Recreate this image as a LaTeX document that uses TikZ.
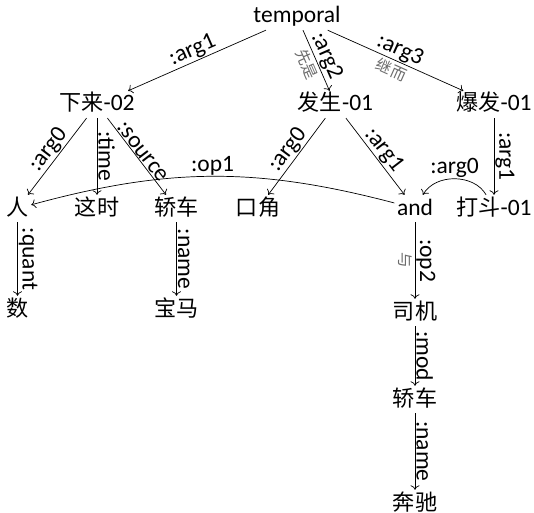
\documentclass[tikz,border=0pt]{standalone}
\usepackage{fontspec}
\setmainfont{Carlito}
\newfontfamily\cjk[Scale=0.94]{Noto Sans CJK SC}
\usetikzlibrary{arrows.meta}
\newcommand\zh[1]{{\cjk #1}}
\begin{document}
\begin{tikzpicture}[x=1bp,y=1bp,
  n/.style={font=\fontsize{23.5bp}{28bp}\selectfont, inner sep=2.5bp, text height=17.5bp, text depth=4.5bp},
  lbl/.style={above, sloped, font=\fontsize{23.5bp}{28bp}\selectfont, inner sep=1bp},
  glbl/.style={below, sloped, font=\fontsize{16.5bp}{18bp}\selectfont, text=black!58, inner sep=2.5bp},
  hl/.style={above, font=\fontsize{23.5bp}{28bp}\selectfont, inner sep=1bp},
  arr/.style={-{To[length=4.5bp,width=9bp]}, line width=0.7bp}]
\useasboundingbox (0,0) rectangle (534,-513);
\node[n] (tmp) at (297,-16.5) {temporal};
\node[n] (xl) at (97,-104.5) {\zh{下来}-02};
\node[n] (fs) at (335.5,-104.5) {\zh{发生}-01};
\node[n] (bf) at (494,-104.5) {\zh{爆发}-01};
\node[n] (ren) at (17.5,-208.5) {\zh{人}};
\node[n] (zs) at (97,-208.5) {\zh{这时}};
\node[n] (jc1) at (176.5,-208.5) {\zh{轿车}};
\node[n] (kj) at (258,-208.5) {\zh{口角}};
\node[n] (and) at (415,-208.5) {and};
\node[n] (dd) at (494,-208.5) {\zh{打斗}-01};
\node[n] (shu) at (17.5,-309.5) {\zh{数}};
\node[n] (bm) at (176.5,-309.5) {\zh{宝马}};
\node[n] (sj) at (415,-312.5) {\zh{司机}};
\node[n] (jc2) at (415,-399.5) {\zh{轿车}};
\node[n] (bc) at (415,-503.5) {\zh{奔驰}};
\draw[arr] (tmp) -- node[lbl]{:arg1} (xl);
\draw[arr] (tmp) -- node[lbl]{:arg2} node[glbl]{\zh{先是}} (fs);
\draw[arr] (tmp) -- node[lbl]{:arg3} node[glbl]{\zh{继而}} (bf);
\draw[arr] (xl) -- node[lbl]{:arg0} (ren);
\draw[arr] (xl) -- node[lbl]{:time} (zs);
\draw[arr] (xl) -- node[lbl]{:source} (jc1);
\draw[arr] (fs) -- node[lbl]{:arg0} (kj);
\draw[arr] (fs) -- node[lbl]{:arg1} (and);
\draw[arr] (bf) -- node[lbl]{:arg1} (dd);
\draw[arr] (and) to[bend right=15] node[hl]{:op1} (ren);
\draw[arr] (dd) to[bend right=60] node[hl]{:arg0} (and);
\draw[arr] (ren) -- node[lbl]{:quant} (shu);
\draw[arr] (jc1) -- node[lbl]{:name} (bm);
\draw[arr] (and) -- node[lbl]{:op2} node[glbl]{\zh{与}} (sj);
\draw[arr] (sj) -- node[lbl]{:mod} (jc2);
\draw[arr] (jc2) -- node[lbl]{:name} (bc);
\end{tikzpicture}
\end{document}
